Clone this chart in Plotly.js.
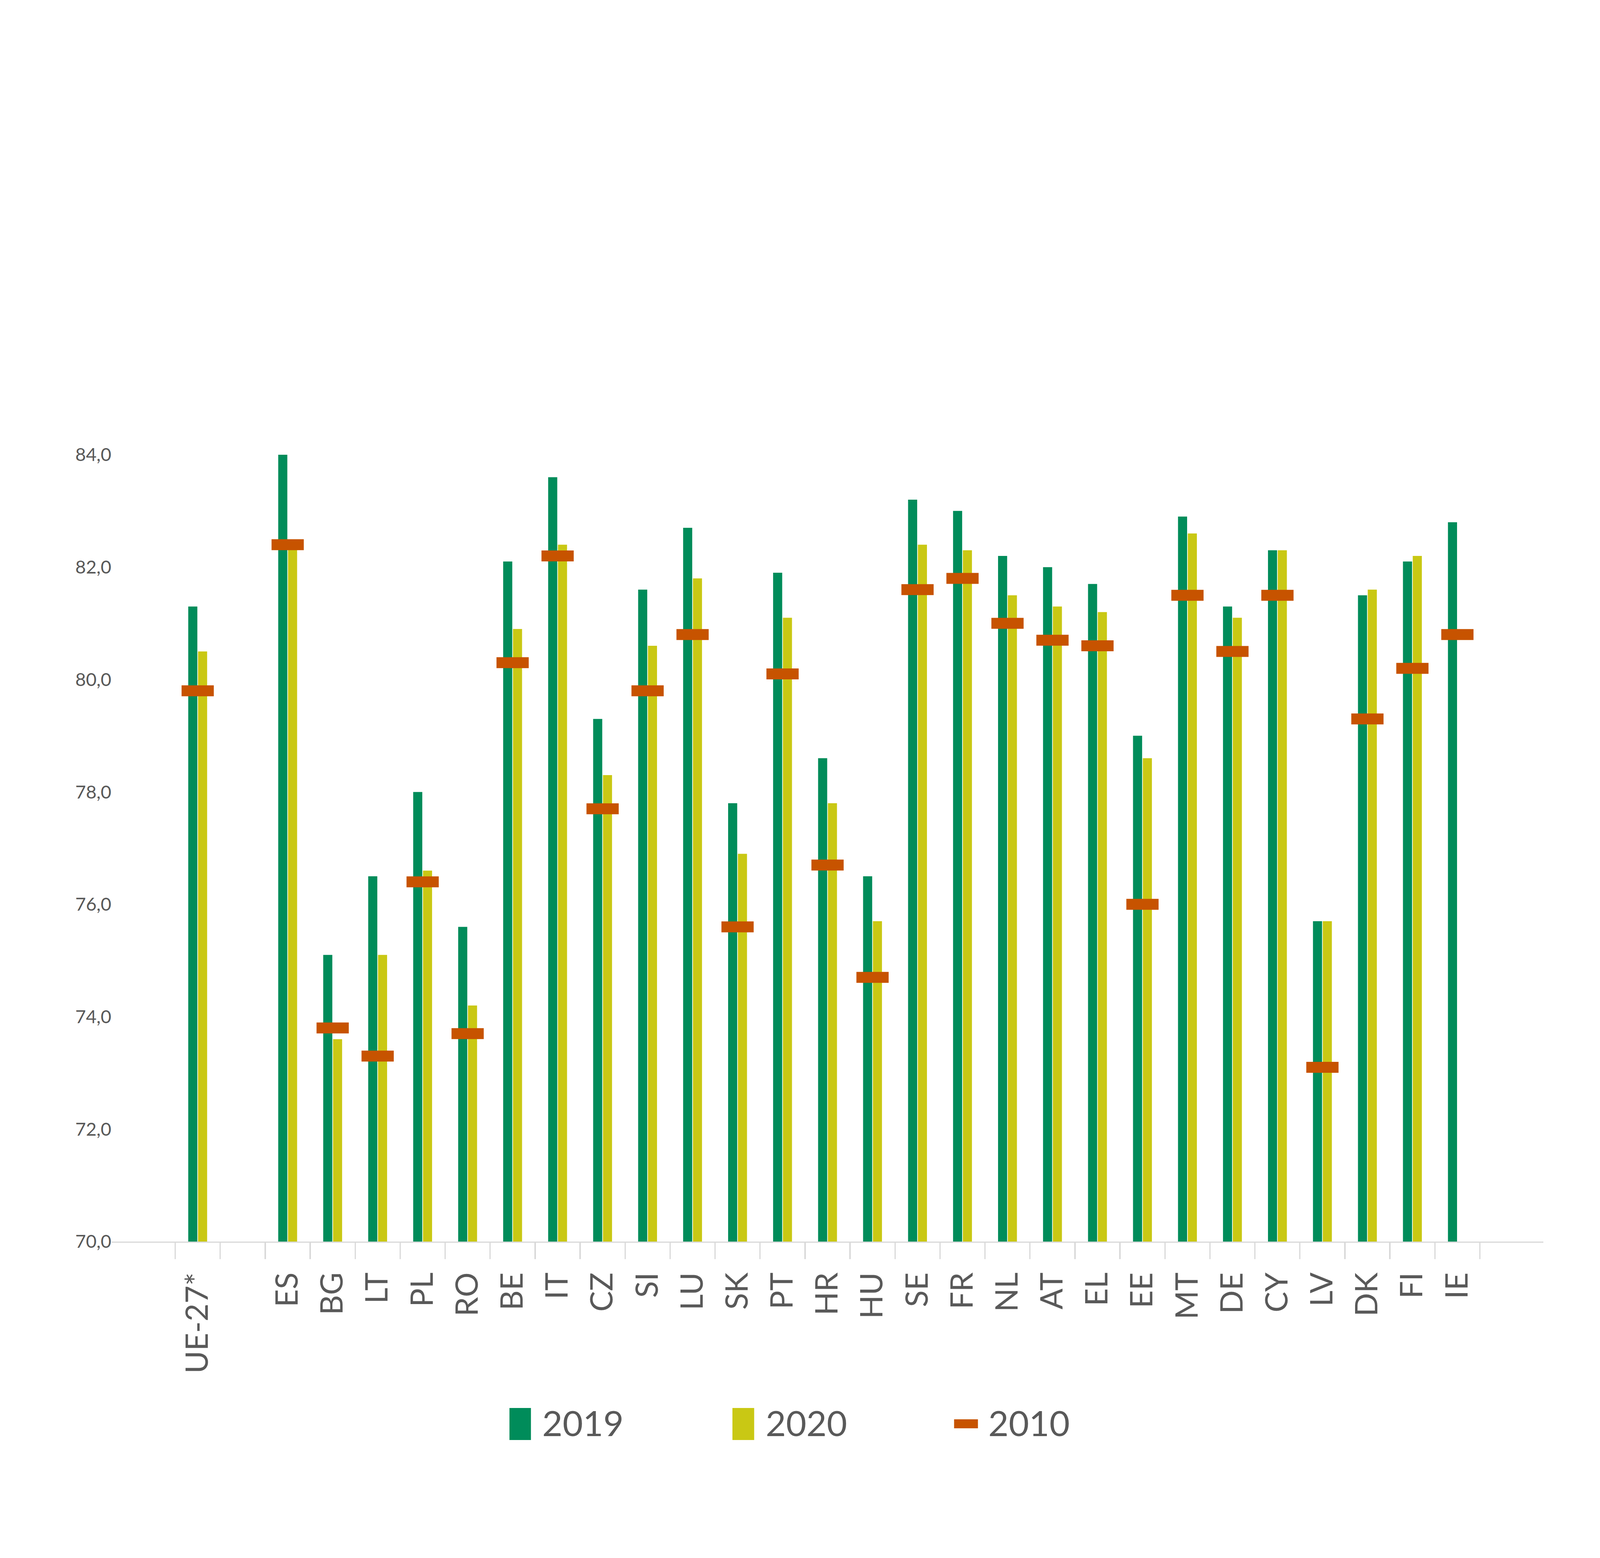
<!DOCTYPE html>
<html>
<head>
<meta charset="utf-8">
<script src="https://cdn.plot.ly/plotly-3.0.1.min.js"></script>
<style>html,body{margin:0;padding:0;background:#fff;overflow:hidden;}#chart{position:absolute;left:0;top:0;}</style>
</head>
<body>
<div id="chart"></div>
<script>
// ---- data ----
var categories = ['UE-27*', ' ', 'ES', 'BG', 'LT', 'PL', 'RO', 'BE', 'IT', 'CZ', 'SI', 'LU', 'SK', 'PT', 'HR', 'HU', 'SE', 'FR', 'NL', 'AT', 'EL', 'EE', 'MT', 'DE', 'CY', 'LV', 'DK', 'FI', 'IE'];
var values2019 = [81.3, null, 84.0, 75.1, 76.5, 78.0, 75.6, 82.1, 83.6, 79.3, 81.6, 82.7, 77.8, 81.9, 78.6, 76.5, 83.2, 83.0, 82.2, 82.0, 81.7, 79.0, 82.9, 81.3, 82.3, 75.7, 81.5, 82.1, 82.8];
var values2020 = [80.5, null, 82.4, 73.6, 75.1, 76.6, 74.2, 80.9, 82.4, 78.3, 80.6, 81.8, 76.9, 81.1, 77.8, 75.7, 82.4, 82.3, 81.5, 81.3, 81.2, 78.6, 82.6, 81.1, 82.3, 75.7, 81.6, 82.2, null];
var values2010 = [79.8, null, 82.4, 73.8, 73.3, 76.4, 73.7, 80.3, 82.2, 77.7, 79.8, 80.8, 75.6, 80.1, 76.7, 74.7, 81.6, 81.8, 81.0, 80.7, 80.6, 76.0, 81.5, 80.5, 81.5, 73.1, 79.3, 80.2, 80.8];
var seriesNames = ['2019', '2020', '2010'];
var yTicks = [70, 72, 74, 76, 78, 80, 82, 84];

// ---- styles (designed for a 6106 x 3988 canvas, scaled to the window) ----
var W = 6106, H = 3988;
var vw = window.innerWidth || W, vh = window.innerHeight || H;
var sx = vw / W, sy = vh / H, sf = Math.min(sx, sy);
var M = {l: 426, r: 216, t: 1164, b: 810};
var cGreen = '#008C5A', cYellow = '#C9C814', cOrange = '#C75300', cText = '#595959', cAxis = '#D9D9D9';
var FONT = 'Lato, "Open Sans", sans-serif';

var plotW = W - M.l - M.r, plotH = H - M.t - M.b;
function px(x) { return (x - M.l) / plotW; }
function py(y) { return (H - M.b - y) / plotH; }

var traces = [
  {type: 'bar', name: seriesNames[0], x: categories, y: values2019,
   marker: {color: cGreen}, showlegend: false},
  {type: 'bar', name: seriesNames[1], x: categories, y: values2020,
   marker: {color: cYellow}, showlegend: false},
  {type: 'scatter', mode: 'markers', name: seriesNames[2], x: categories, y: values2010,
   marker: {symbol: 'line-ew', size: (123 / 1.4) * sx, line: {width: 28 * sy, color: cOrange}, color: cOrange},
   showlegend: false, cliponaxis: false}
];

var legendItems = [
  {name: seriesNames[0], color: cGreen, x0: 1944, x1: 2026, y0: 3604, y1: 3686, tx: 2066},
  {name: seriesNames[1], color: cYellow, x0: 2795, x1: 2878, y0: 3604, y1: 3686, tx: 2919},
  {name: seriesNames[2], color: cOrange, x0: 3641, x1: 3732, y0: 3633, y1: 3656, tx: 3769}
];
var shapes = [], annotations = [];
legendItems.forEach(function (it) {
  shapes.push({type: 'rect', xref: 'paper', yref: 'paper',
    x0: px(it.x0), x1: px(it.x1), y0: py(it.y1), y1: py(it.y0),
    fillcolor: it.color, line: {width: 0}});
  annotations.push({xref: 'paper', yref: 'paper', x: px(it.tx), y: py(3641),
    xanchor: 'left', yanchor: 'middle', showarrow: false, text: it.name,
    font: {family: FONT, size: 134 * sf, color: cText}});
});

var layout = {
  width: vw, height: vh,
  margin: {l: M.l * sx, r: M.r * sx, t: M.t * sy, b: M.b * sy, pad: 0},
  paper_bgcolor: '#ffffff', plot_bgcolor: '#ffffff',
  barmode: 'group', bargap: 0.565, bargroupgap: 0.07,
  separators: ', ',
  font: {family: FONT, color: cText},
  showlegend: false,
  xaxis: {
    type: 'category', categoryorder: 'array', categoryarray: categories,
    showline: true, linecolor: cAxis, linewidth: 5 * sf,
    ticks: 'outside', tickson: 'boundaries', ticklen: 42 * sy, tickwidth: 5 * sf, tickcolor: cAxis,
    tickangle: -90, tickfont: {family: FONT, size: 118 * sf, color: cText},
    ticklabelstandoff: 44 * sy,
    showgrid: false, zeroline: false, fixedrange: true
  },
  yaxis: {
    range: [70, 84], tickmode: 'array', tickvals: yTicks, tickformat: '.1f',
    showline: false, showgrid: false, zeroline: false, ticks: '',
    tickfont: {family: FONT, size: 70 * sf, color: cText},
    ticklabelstandoff: 58 * sx, fixedrange: true
  },
  shapes: shapes,
  annotations: annotations
};

Plotly.newPlot('chart', traces, layout, {displayModeBar: false, staticPlot: true});
</script>
</body>
</html>
